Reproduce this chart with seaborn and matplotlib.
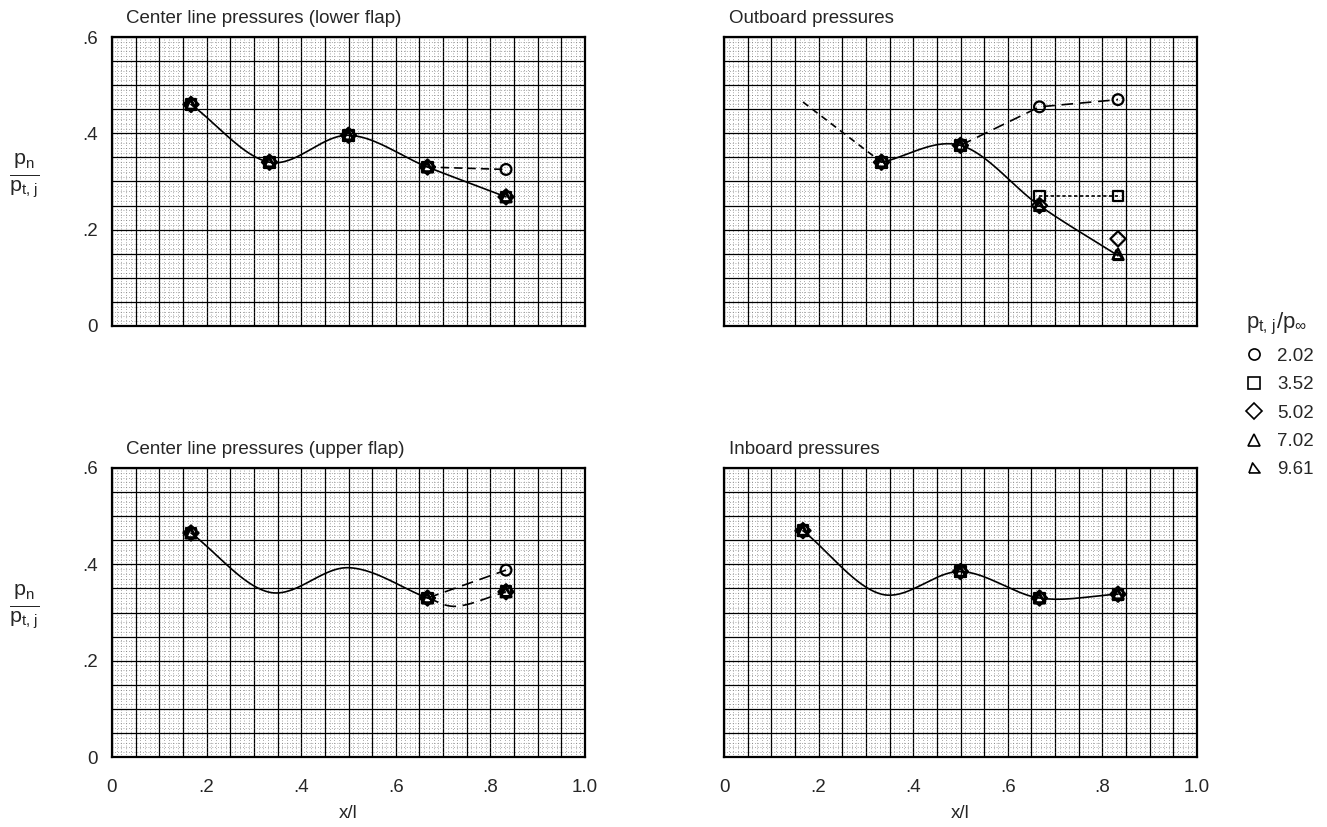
import numpy as np
import pandas as pd
import seaborn as sns
import matplotlib
matplotlib.use("Agg")
import matplotlib.pyplot as plt
from matplotlib.lines import Line2D
from matplotlib.ticker import MultipleLocator, FuncFormatter

# x/l of the pressure orifices along the flap
stations = [0.167, 0.333, 0.5, 0.667, 0.833]
ratios = ["2.02", "3.52", "5.02", "7.02", "9.61"]
# last one is the leaning triangle used for 9.61
ratio_markers = ["o", "s", "D", "^", [(-1, -0.8), (1, -0.8), (-0.35, 1), (-1, -0.8)]]

nan = np.nan
# p_n / p_t,j, one row per pressure ratio (order of `ratios`)
lower_cl = [
    [0.460, 0.340, 0.396, 0.330, 0.325],
    [0.460, 0.340, 0.396, 0.330, 0.268],
    [0.460, 0.340, 0.396, 0.330, 0.268],
    [0.460, 0.340, 0.396, 0.330, 0.268],
    [0.460, 0.340, 0.396, 0.330, 0.268],
]
outboard = [
    [nan, 0.340, 0.375, 0.455, 0.470],
    [nan, 0.340, 0.375, 0.270, 0.270],
    [nan, 0.340, 0.375, 0.250, 0.181],
    [nan, 0.340, 0.375, 0.250, 0.150],
    [nan, 0.340, 0.375, 0.250, 0.146],
]
upper_cl = [
    [0.465, nan, nan, 0.330, 0.388],
    [0.465, nan, nan, 0.330, 0.343],
    [0.465, nan, nan, 0.330, 0.343],
    [0.465, nan, nan, 0.330, 0.343],
    [0.465, nan, nan, 0.330, 0.343],
]
inboard = [
    [0.470, nan, 0.385, 0.330, 0.338],
    [0.470, nan, 0.385, 0.330, 0.338],
    [0.470, nan, 0.385, 0.330, 0.338],
    [0.470, nan, 0.385, 0.330, 0.338],
    [0.470, nan, 0.385, 0.330, 0.338],
]

# faired curves (where they pass the stations)
upper_cl_fair = [0.465, 0.342, 0.393, 0.330]
upper_cl_branch_x = [0.667, 0.73, 0.833]
upper_cl_branch_y = [0.330, 0.313, 0.343]
inboard_fair = [0.470, 0.338, 0.385, 0.330, 0.338]
outboard_start = 0.465

titles = ["Center line pressures (lower flap)", "Outboard pressures",
          "Center line pressures (upper flap)", "Inboard pressures"]

sns.set_theme(style="white")
plt.rcParams["font.family"] = ["Liberation Sans", "DejaVu Sans"]
plt.rcParams["mathtext.fontset"] = "custom"
plt.rcParams["mathtext.rm"] = "Liberation Sans"
plt.rcParams["mathtext.it"] = "Liberation Sans:italic"


def faired(xs, ys, n=40):
    # Catmull-Rom through the read points, to mimic the hand-faired curve
    xs, ys = np.asarray(xs, float), np.asarray(ys, float)
    px = np.r_[2 * xs[0] - xs[1], xs, 2 * xs[-1] - xs[-2]]
    py = np.r_[2 * ys[0] - ys[1], ys, 2 * ys[-1] - ys[-2]]
    t = np.linspace(0, 1, n)
    fx, fy = [], []
    for i in range(1, len(px) - 2):
        for p, out in ((px, fx), (py, fy)):
            p0, p1, p2, p3 = p[i - 1:i + 3]
            out.append(0.5 * (2 * p1 + (p2 - p0) * t
                              + (2 * p0 - 5 * p1 + 4 * p2 - p3) * t ** 2
                              + (3 * p1 - p0 - 3 * p2 + p3) * t ** 3))
    return np.concatenate(fx), np.concatenate(fy)


def line(ax, xs, ys, ls="-", smooth=False):
    if smooth:
        xs, ys = faired(xs, ys)
    sns.lineplot(x=xs, y=ys, sort=False, estimator=None, color="black",
                 lw=1.2, linestyle=ls, ax=ax, zorder=4)


def points(ax, table):
    rows = []
    for r, vals in zip(ratios, table):
        for x, y in zip(stations, vals):
            if not np.isnan(y):
                rows.append((x, y, r))
    df = pd.DataFrame(rows, columns=["x", "y", "ratio"])
    sns.scatterplot(data=df, x="x", y="y", style="ratio", style_order=ratios,
                    markers=dict(zip(ratios, ratio_markers)), color="black",
                    facecolor="none", edgecolor="black", s=60, linewidth=1.6,
                    legend=False, ax=ax, zorder=5)


def fmt(v, pos):
    if abs(v) < 1e-9:
        return "0"
    if abs(v * 5 - round(v * 5)) > 1e-6:
        return ""
    return "1.0" if abs(v - 1) < 1e-9 else f"{v:.1f}".lstrip("0")


W, H = 1327, 827
fig = plt.figure(figsize=(W / 100, H / 100), dpi=100)
boxes = [(112, 37), (724, 37), (112, 468), (724, 468)]
axes = []
for i, (left, top) in enumerate(boxes):
    ax = fig.add_axes([left / W, 1 - (top + 289) / H, 473 / W, 289 / H])
    ax.set_xlim(0, 1.0)
    ax.set_ylim(0, 0.6)
    ax.xaxis.set_major_locator(MultipleLocator(0.05))
    ax.yaxis.set_major_locator(MultipleLocator(0.05))
    ax.xaxis.set_minor_locator(MultipleLocator(0.01))
    ax.yaxis.set_minor_locator(MultipleLocator(0.01))
    ax.xaxis.set_major_formatter(FuncFormatter(fmt))
    ax.yaxis.set_major_formatter(FuncFormatter(fmt))
    ax.grid(which="major", color="black", lw=0.9)
    ax.grid(which="minor", color="0.35", lw=0.5, linestyle=(0, (1, 3)))
    ax.tick_params(which="both", length=0, labelsize=13.5, pad=10)
    ax.tick_params(axis="x", pad=16)
    for s in ax.spines.values():
        s.set_color("black")
        s.set_linewidth(1.6)
    if i < 2:
        ax.tick_params(axis="x", labelbottom=False)
    if i % 2 == 1:
        ax.tick_params(axis="y", labelleft=False)
    else:
        ax.set_ylabel(r"$\frac{\mathrm{p_n}}{\mathrm{p_{t,\,j}}}$", fontsize=22,
                      rotation=0, va="center", ha="center")
        ax.yaxis.set_label_coords(-0.185, 0.52)
    if i >= 2:
        ax.set_xlabel("x/l", fontsize=13.5, labelpad=6)
    else:
        ax.set_xlabel("")
    ax.text(0.03 if i % 2 == 0 else 0.01, 1 + 14 / 289, titles[i],
            transform=ax.transAxes, fontsize=13.5, va="baseline", ha="left")
    ax.set_axisbelow(True)
    axes.append(ax)

ax_lc, ax_ob, ax_uc, ax_ib = axes

# center line, lower flap
line(ax_lc, stations, lower_cl[1], smooth=True)
line(ax_lc, stations[3:], lower_cl[0][3:], ls=(0, (5, 3)))
points(ax_lc, lower_cl)

# outboard
line(ax_ob, stations[:2], [outboard_start, outboard[0][1]], ls=(0, (4, 3)))
line(ax_ob, stations[1:], outboard[4][1:], smooth=True)
line(ax_ob, stations[2:], outboard[0][2:], ls=(0, (7, 4)))
line(ax_ob, stations[3:], outboard[1][3:], ls=(0, (2, 1.5)))
points(ax_ob, outboard)

# center line, upper flap
line(ax_uc, stations[:4], upper_cl_fair, smooth=True)
line(ax_uc, stations[3:], upper_cl[0][3:], ls=(0, (7, 4)))
line(ax_uc, upper_cl_branch_x, upper_cl_branch_y, ls=(0, (7, 4)), smooth=True)
points(ax_uc, upper_cl)

# inboard
line(ax_ib, stations, inboard_fair, smooth=True)
points(ax_ib, inboard)

handles = [Line2D([], [], ls="", marker=m, mfc="none", mec="black", ms=8, mew=1.2)
           for m in ratio_markers]
fig.legend(handles, ratios, title=r"$\mathrm{p_{t,\,j}/p_\infty}$",
           loc="upper left", bbox_to_anchor=(1238 / W, 1 - 303 / H),
           frameon=False, fontsize=13.5, title_fontsize=16, handlelength=0.9,
           handletextpad=0.8, labelspacing=0.6, alignment="left",
           borderaxespad=0)

fig.savefig("out.png", dpi=100, facecolor="white")
